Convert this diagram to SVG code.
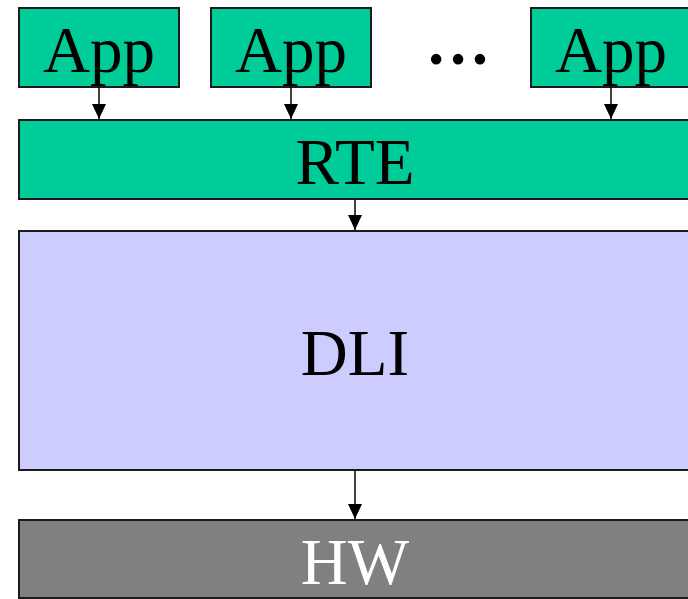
<svg xmlns="http://www.w3.org/2000/svg" width="688" height="599" viewBox="0 0 688 599">
  <style>
    .box { stroke: #1a1a1a; stroke-width: 2; }
    .app { fill: #00cc99; }
    .dli { fill: #ccccff; }
    .hw { fill: #808080; }
    .lbl { font-family: "Liberation Serif", "Times New Roman", serif; font-size: 65px; text-anchor: middle; fill: #000; }
    .conn { stroke: #000; stroke-width: 1.5; fill: none; marker-end: url(#arrow); }
  </style>
  <defs>
    <marker id="arrow" markerUnits="userSpaceOnUse" markerWidth="16" markerHeight="16" viewBox="0 0 16 16" refX="15" refY="8" orient="auto">
      <path d="M0,1 L15,8 L0,15 Z" fill="#000"/>
    </marker>
  </defs>
  <rect width="688" height="599" fill="#fff"/>

  <g id="app1">
    <rect class="box app" x="19" y="8" width="160" height="79"/>
    <text class="lbl" x="99" y="72">App</text>
  </g>
  <g id="app2">
    <rect class="box app" x="211" y="8" width="160" height="79"/>
    <text class="lbl" x="291" y="72">App</text>
  </g>
  <g id="ellipsis">
    <text class="lbl" x="458" y="64" font-size="77" font-weight="bold">…</text>
  </g>
  <g id="app3">
    <rect class="box app" x="531" y="8" width="170" height="79"/>
    <text class="lbl" x="611" y="72">App</text>
  </g>
  <g id="rte">
    <rect class="box app" x="19" y="120" width="690" height="79"/>
    <text class="lbl" x="355" y="184">RTE</text>
  </g>
  <g id="dli">
    <rect class="box dli" x="19" y="231" width="690" height="239"/>
    <text class="lbl" x="355" y="375">DLI</text>
  </g>
  <g id="hw">
    <rect class="box hw" x="19" y="520" width="690" height="78"/>
    <text class="lbl" x="355" y="584" style="fill:#fff">HW</text>
  </g>

  <g id="connectors">
    <line class="conn" x1="99" y1="87" x2="99" y2="119"/>
    <line class="conn" x1="291" y1="87" x2="291" y2="119"/>
    <line class="conn" x1="611" y1="87" x2="611" y2="119"/>
    <line class="conn" x1="355" y1="199" x2="355" y2="230"/>
    <line class="conn" x1="355" y1="470" x2="355" y2="519"/>
  </g>
</svg>
